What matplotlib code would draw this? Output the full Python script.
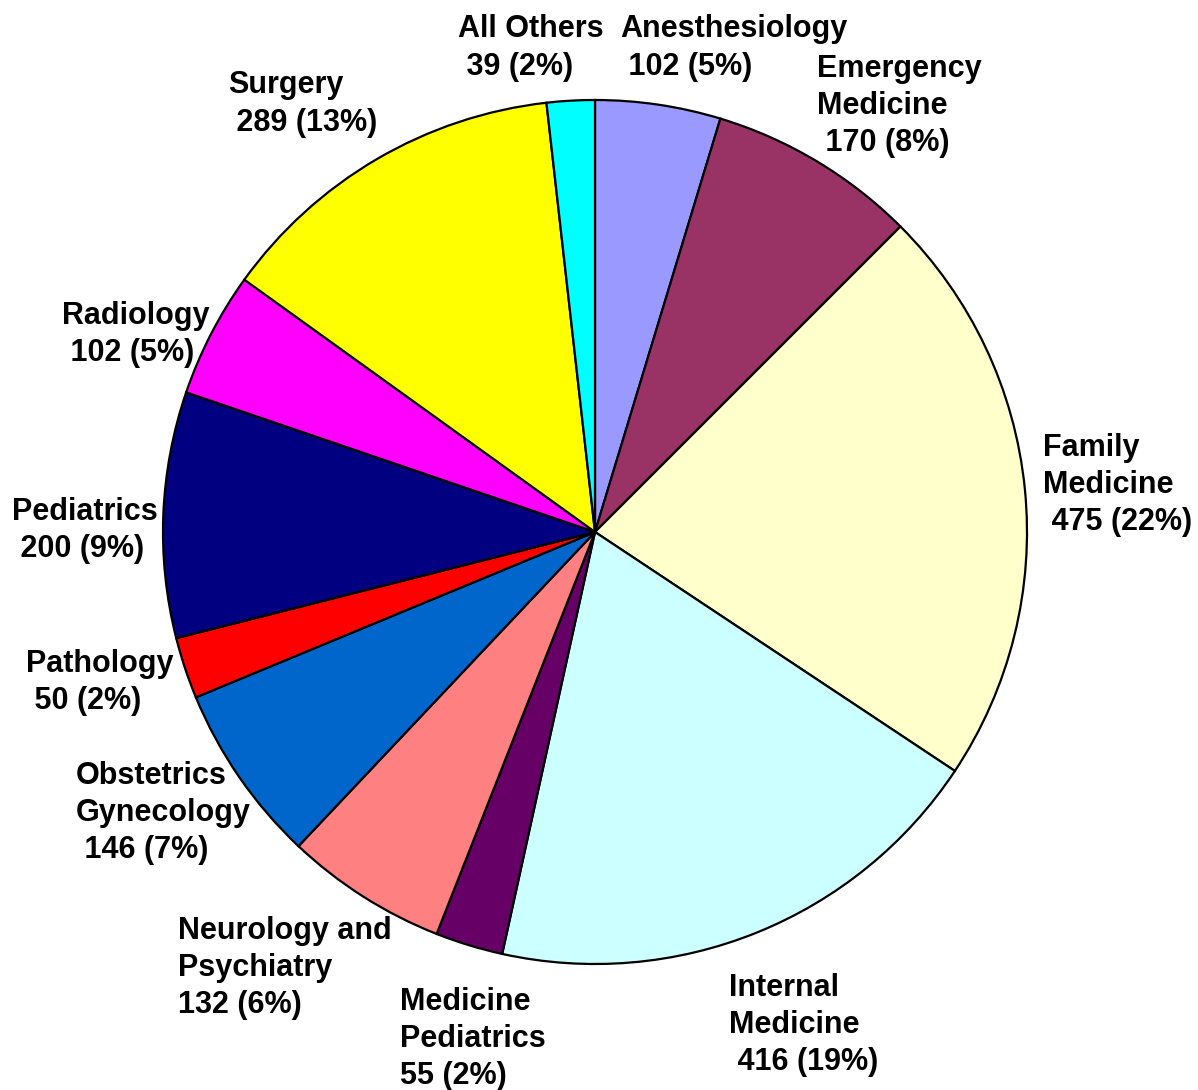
import matplotlib
matplotlib.use("Agg")
import matplotlib.pyplot as plt

# Datos del grafico
especialidades = ["Anesthesiology", "Emergency\nMedicine", "Family\nMedicine",
                  "Internal\nMedicine", "Medicine\nPediatrics", "Neurology and\nPsychiatry",
                  "Obstetrics\nGynecology", "Pathology", "Pediatrics", "Radiology",
                  "Surgery", "All Others"]
valores = [102, 170, 475, 416, 55, 132, 146, 50, 200, 102, 289, 39]
porcentajes = [5, 8, 22, 19, 2, 6, 7, 2, 9, 5, 13, 2]
colores = ["#9999FF", "#993366", "#FFFFCC", "#CCFFFF", "#660066", "#FF8080",
           "#0066CC", "#FF0000", "#000080", "#FF00FF", "#FFFF00", "#00FFFF"]

# Posicion de cada etiqueta en pixeles (x izquierda, y centro de la primera linea)
pos_etiquetas = [(620, 26), (817, 67), (1043, 446), (729, 986), (400, 1000),
                 (178, 929), (76, 774), (26, 661), (12, 509), (62, 313),
                 (228, 82), (458, 26)]
# Las etiquetas con espacio inicial en la linea del numero
sin_espacio = {"Neurology and\nPsychiatry", "Medicine\nPediatrics"}

W, H = 1198, 1090
cx, cy, r = 595, 532, 432
paso = 35.5  # separacion entre lineas en pixeles

fig = plt.figure(figsize=(W / 100, H / 100), dpi=100)
ax = fig.add_axes([0, 0, 1, 1])
ax.pie(valores, colors=colores, startangle=90, counterclock=False,
       wedgeprops=dict(edgecolor="black", linewidth=1.6), radius=1)
ax.set_xlim(-cx / r, (W - cx) / r)
ax.set_ylim(-(H - cy) / r, cy / r)
ax.set_aspect("auto")
ax.axis("off")

for nombre, v, p, (x, y) in zip(especialidades, valores, porcentajes, pos_etiquetas):
    pref = "" if nombre in sin_espacio else " "
    texto = f"{nombre}\n{pref}{v} ({p}%)"
    n = texto.count("\n")
    # va='baseline' alinea la ultima linea
    yb = y + 13 + n * paso
    fig.text(x / W, 1 - yb / H, texto, ha="left", va="baseline",
             fontsize=22, fontweight="bold", family="Liberation Sans",
             linespacing=1.31)

fig.savefig("out.png", dpi=100)
